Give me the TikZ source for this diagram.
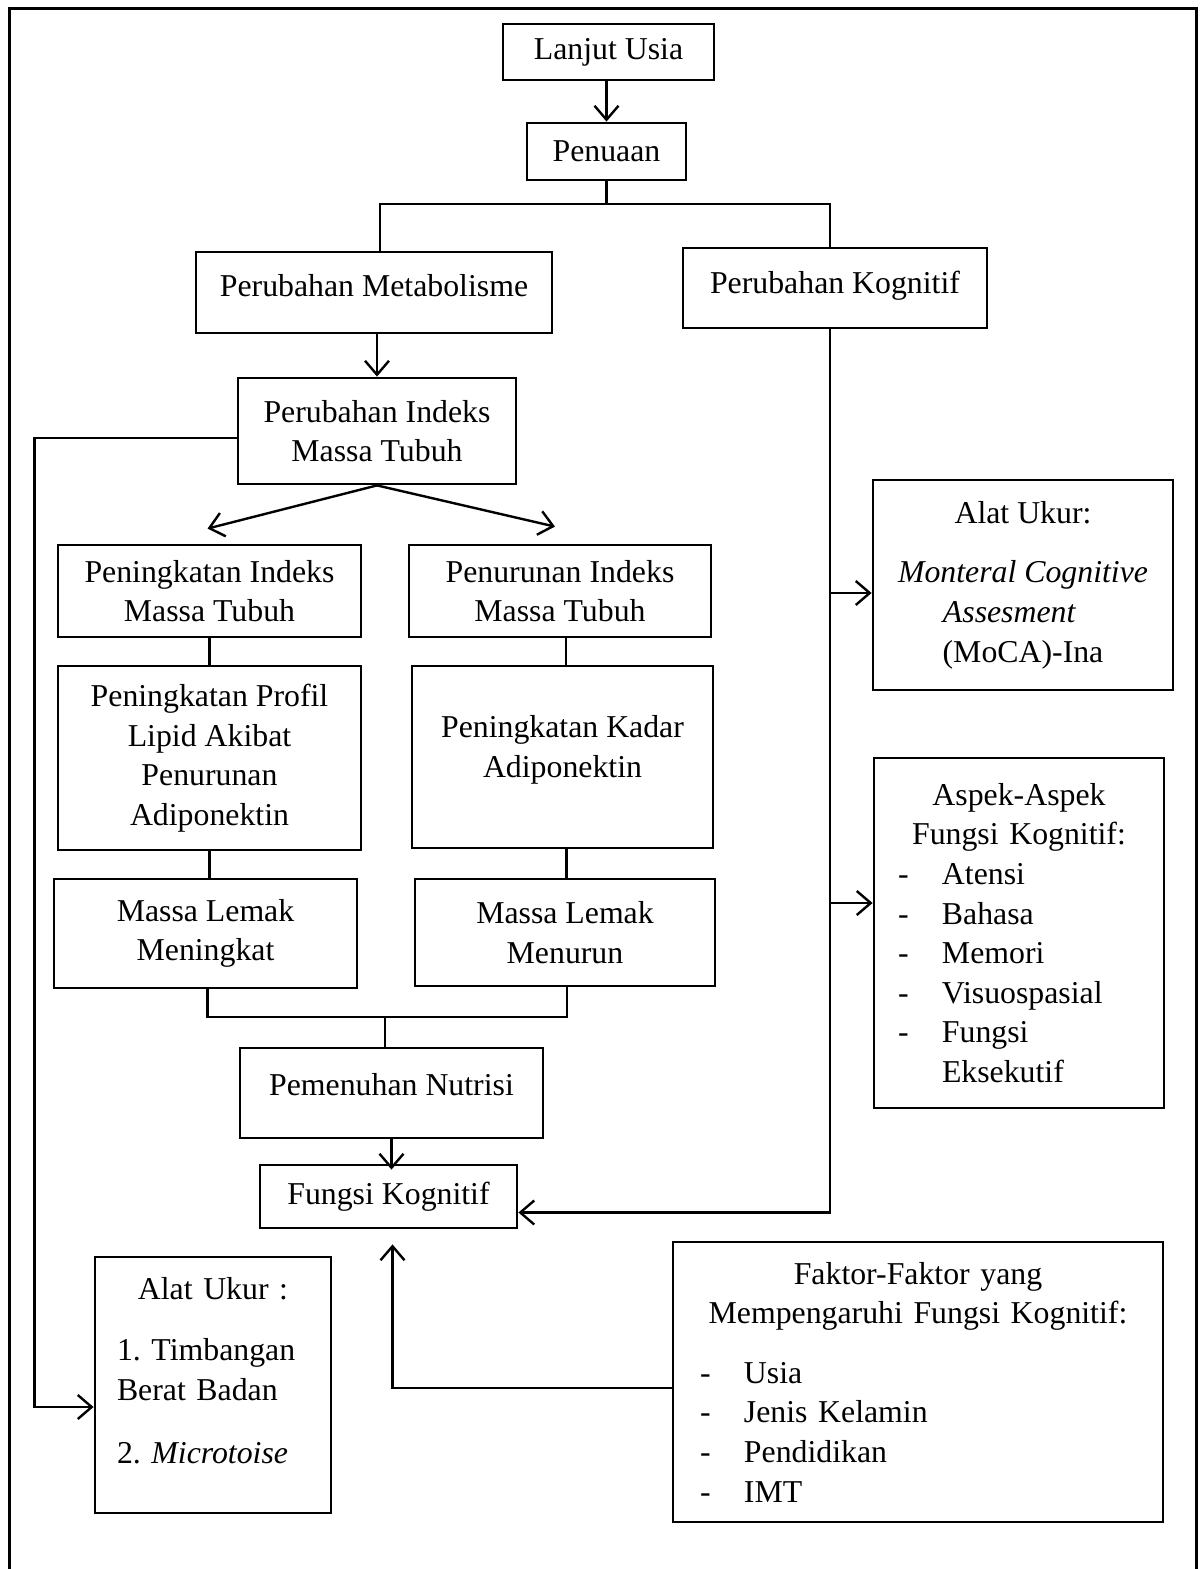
\documentclass[tikz,border=0pt]{standalone}
\usepackage{fontspec}
\setmainfont{Liberation Serif}
\usetikzlibrary{arrows.meta,positioning}

\newcommand{\itemdash}{\makebox[22pt][l]{-}}
\newcommand{\midline}[1]{\hspace*{\fill}#1\hspace*{\fill}\mbox{}}

\begin{document}
\frenchspacing
\begin{tikzpicture}[
    x=0.5pt, y=-0.5pt,
    box/.style={rectangle, draw, line width=1.4pt, align=center, inner sep=2pt,
                font=\fontsize{15.9}{19.8}\selectfont},
    listbox/.style={box, align=left},
    arrow/.style={-{Straight Barb[length=7pt,width=12pt]}, line width=1.2pt},
    link/.style={line width=1.2pt}
]
    \useasboundingbox (0,0) rectangle (1202,1569);
    \draw[line width=1.5pt] (9,8) rectangle (1196,1600);

    % main column
    \node[box, minimum width=105.5pt, minimum height=28pt] (usia) at (608.5,52) {Lanjut Usia};
    \node[box, minimum width=79.5pt, minimum height=28.5pt] (tua) at (606.5,151.5) {Penuaan};
    \node[box, minimum width=178pt, minimum height=40.5pt, text depth=7.5pt] (meta) at (374,292.5) {Perubahan Metabolisme};
    \node[box, minimum width=152pt, minimum height=40pt, text depth=5.5pt] (kog) at (835,288) {Perubahan Kognitif};
    \node[box, minimum width=139pt, minimum height=53pt] (imt) at (377,431) {Perubahan Indeks\\Massa Tubuh};

    \node[box, minimum width=151.5pt, minimum height=46pt] (naik) at (209.5,591) {Peningkatan Indeks\\Massa Tubuh};
    \node[box, minimum width=151pt, minimum height=46pt] (turun) at (560,591) {Penurunan Indeks\\Massa Tubuh};
    \node[box, minimum width=151.5pt, minimum height=92pt] (lipid) at (209.5,758) {Peningkatan Profil\\Lipid Akibat\\Penurunan\\Adiponektin};
    \node[box, minimum width=150.5pt, minimum height=91pt, text depth=10.5pt] (kadar) at (562.5,757) {Peningkatan Kadar\\Adiponektin};
    \node[box, minimum width=151.5pt, minimum height=54.5pt] (lemak1) at (205.5,933.5) {Massa Lemak\\Meningkat};
    \node[box, minimum width=150pt, minimum height=53.5pt] (lemak2) at (565,932.5) {Massa Lemak\\Menurun};
    \node[box, minimum width=151.5pt, minimum height=45pt, text depth=9pt] (nutri) at (391.5,1093) {Pemenuhan Nutrisi};
    \node[box, minimum width=128.5pt, minimum height=31.5pt] (fk) at (388.5,1196.5) {Fungsi Kognitif};

    % side boxes
    \node[box, minimum width=150pt, minimum height=105pt] (moca) at (1023,585)
        {Alat Ukur:\\[10pt]\textit{Monteral Cognitive}\\\textit{Assesment}\hspace*{13.5pt}\mbox{}\\(MoCA)-Ina};
    \node[listbox, minimum width=145pt, minimum height=175pt, inner xsep=12pt, text width=121pt] (aspek) at (1019,933)
        {\midline{Aspek-Aspek}\\
         \midline{Fungsi Kognitif:}\\
         \itemdash Atensi\\
         \itemdash Bahasa\\
         \itemdash Memori\\
         \itemdash Visuospasial\\
         \itemdash Fungsi\\
         \hspace*{22pt}Eksekutif};
    \node[listbox, minimum width=245pt, minimum height=140pt, inner xsep=13.5pt, text width=218pt] (faktor) at (918,1382)
        {\midline{Faktor-Faktor yang}\\
         \midline{Mempengaruhi Fungsi Kognitif:}\\[10pt]
         \itemdash Usia\\
         \itemdash Jenis Kelamin\\
         \itemdash Pendidikan\\
         \itemdash IMT};
    \node[listbox, minimum width=118pt, minimum height=128pt, inner xsep=11pt, text width=96pt] (ukur) at (213,1385)
        {\midline{Alat Ukur :}\\[11pt]
         1. Timbangan\\
         Berat Badan\\[12pt]
         2. \textit{Microtoise}\rule[-14.5pt]{0pt}{14.5pt}};

    % connectors
    \coordinate (fork) at (606.5,204);
    \coordinate (join) at (385,1017);
    \coordinate (rail) at ([xshift=-2.5pt]kog.south);
    \coordinate (mocain) at ([yshift=-4pt]moca.west);
    \coordinate (aspekin) at ([yshift=15pt]aspek.west);

    \draw[arrow] (tua.north |- usia.south) -- (tua.north);
    \draw[link] (tua.south) -- (fork);
    \draw[link] ([xshift=3pt]meta.north) |- (fork) -| (rail |- kog.north);
    \draw[arrow] (meta.south -| imt.north) -- (imt.north);
    \draw[arrow] ([yshift=-3.5pt]imt.west) -- ++(-202,0) |- ([yshift=-11pt]ukur.west);
    \draw[arrow] (imt.south) -- ([xshift=-1pt,yshift=7.5pt]naik.north);
    \draw[arrow] (imt.south) -- ([xshift=-2.5pt,yshift=8.5pt]turun.north);

    \draw[link] (naik.south) -- (naik.south |- lipid.north);
    \draw[link] (lipid.south) -- (lipid.south |- lemak1.north);
    \draw[link] ([xshift=3pt]turun.south) -- ([xshift=3pt]turun.south |- kadar.north);
    \draw[link] ([xshift=2pt]kadar.south) -- ([xshift=2pt]kadar.south |- lemak2.north);
    \draw[link] ([xshift=1pt]lemak1.south) |- (join) -| ([xshift=1pt]lemak2.south);
    \draw[link] (join) -- (join |- nutri.north);
    \draw[arrow] (nutri.south) -- ([yshift=-3pt]nutri.south |- fk.north);

    \draw[arrow] (rail) |- ([yshift=-8pt]fk.east);
    \draw[arrow] (rail |- mocain) -- (mocain);
    \draw[arrow] (rail |- aspekin) -- (aspekin);
    \draw[arrow] ([yshift=-3pt]faktor.west) -| ([xshift=2pt,yshift=-7.5pt]fk.south);
\end{tikzpicture}
\end{document}
